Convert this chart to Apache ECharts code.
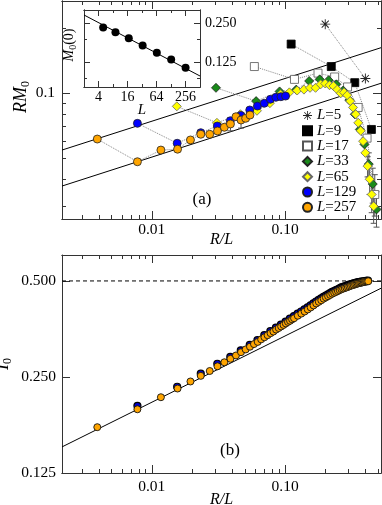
<!DOCTYPE html>
<html>
<head>
<meta charset="utf-8">
<script src="https://cdn.jsdelivr.net/npm/echarts@6/dist/echarts.min.js"></script>
<style>
html, body { margin: 0; padding: 0; background: #fff; }
#chart { width: 382px; height: 505px; }
</style>
</head>
<body>
<div id="chart"></div>
<script>
// ---- data ----
// panel (a): R/L and R*M0 for each system size L
var rl5 = [0.2, 0.4];
var rm5 = [0.209, 0.117];
var rl9 = [0.111, 0.222, 0.333, 0.444];
var rm9 = [0.169, 0.133, 0.112, 0.068];
var rl17 = [0.0588, 0.1176, 0.1765, 0.2353, 0.2941, 0.3529, 0.4118, 0.4706];
var rm17 = [0.133, 0.116, 0.124, 0.119, 0.107, 0.086, 0.062, 0.034];
var rl33 = [0.0303, 0.0606, 0.0909, 0.1212, 0.1515, 0.1818, 0.2121, 0.2424, 0.2727, 0.3030, 0.3333, 0.3636, 0.3939, 0.4242, 0.4545, 0.4848];
var rm33 = [0.106, 0.092, 0.102, 0.104, 0.114, 0.116, 0.115, 0.110, 0.103, 0.093, 0.080, 0.068, 0.058, 0.047, 0.038, 0.029];
var rl65 = [0.0154, 0.0308, 0.0462, 0.0615, 0.0769, 0.0923, 0.1077, 0.1231, 0.1385, 0.1538, 0.1692, 0.1846, 0.2000, 0.2154, 0.2308,
            0.2462, 0.2615, 0.2769, 0.2923, 0.3077, 0.3231, 0.3385, 0.3538, 0.3692, 0.3846, 0.4000, 0.4154, 0.4308, 0.4462, 0.4615];
var rm65 = [0.087, 0.073, 0.080, 0.083, 0.090, 0.099, 0.101, 0.103, 0.104, 0.106, 0.106, 0.110, 0.111, 0.109, 0.108,
            0.104, 0.100, 0.101, 0.098, 0.092, 0.086, 0.080, 0.073, 0.067, 0.060, 0.053, 0.046, 0.040, 0.034, 0.030];
var rl129 = [0.0078, 0.0155, 0.0233, 0.0310, 0.0388, 0.0465, 0.0543, 0.0620, 0.0698, 0.0775, 0.0853, 0.0930, 0.1008];
var rm129 = [0.0726, 0.0587, 0.0657, 0.0706, 0.0746, 0.0790, 0.0837, 0.0873, 0.0899, 0.0938, 0.0958, 0.0964, 0.0971];
var rl257 = [0.0039, 0.0078, 0.0117, 0.0156, 0.0195, 0.0233, 0.0272, 0.0311, 0.0350, 0.0389, 0.0428, 0.0467, 0.0506, 0.0545];
var rm257 = [0.0614, 0.0482, 0.0546, 0.0551, 0.0608, 0.0646, 0.0646, 0.0669, 0.0696, 0.0721, 0.0779, 0.0752, 0.0766, 0.0793];

// error bars in panel (a)
var errX  = [0.0389, 0.0467, 0.4154, 0.4242, 0.4308, 0.4462, 0.4545, 0.4615, 0.4706, 0.4848];
var errLo = [0.067, 0.069, 0.041, 0.041, 0.034, 0.028, 0.031, 0.025, 0.027, 0.024];
var errHi = [0.077, 0.081, 0.051, 0.053, 0.046, 0.040, 0.045, 0.035, 0.042, 0.035];

// straight fits in panel (a), end points
var fitUpX = [0.00212, 0.524], fitUpY = [0.0546, 0.1626];
var fitLoX = [0.00212, 0.524], fitLoY = [0.0372, 0.1113];

// inset: M0(0) versus L
var insetL = [5, 9, 17, 33, 65, 129, 257];
var insetM = [0.233, 0.214, 0.192, 0.169, 0.148, 0.131, 0.113];
var insetFitL = [2, 512], insetFitM = [0.2925, 0.0975];

// panel (b): I0 versus R/L
var b257x = [0.0039, 0.0078, 0.0117, 0.0156, 0.0195, 0.0233, 0.0272, 0.0311, 0.0350, 0.0389, 0.0428, 0.0467, 0.0506, 0.0545, 0.0584,
             0.0623, 0.0661, 0.0700, 0.0739, 0.0778, 0.0817, 0.0856, 0.0895, 0.0934, 0.0973, 0.1012, 0.1051, 0.1089, 0.1128, 0.1167,
             0.1245, 0.1323, 0.1401, 0.1479, 0.1556, 0.1634, 0.1712, 0.1790, 0.1868, 0.1946, 0.2023, 0.2101, 0.2179, 0.2257, 0.2335,
             0.2412, 0.2490, 0.2568, 0.2646, 0.2724, 0.2802, 0.2879, 0.2957, 0.3035, 0.3113, 0.3191, 0.3268, 0.3346, 0.3424, 0.3502,
             0.3580, 0.3658, 0.3735, 0.3813, 0.3891, 0.3969, 0.4047, 0.4125, 0.4202];
var b257i = [0.174, 0.198, 0.216, 0.230, 0.242, 0.252, 0.261, 0.270, 0.278, 0.285, 0.292, 0.299, 0.305, 0.311, 0.317,
             0.322, 0.328, 0.333, 0.338, 0.343, 0.347, 0.352, 0.356, 0.360, 0.364, 0.368, 0.372, 0.375, 0.379, 0.382,
             0.389, 0.395, 0.401, 0.407, 0.413, 0.419, 0.425, 0.430, 0.435, 0.440, 0.444, 0.448, 0.452, 0.456, 0.459,
             0.462, 0.465, 0.468, 0.471, 0.473, 0.475, 0.477, 0.479, 0.481, 0.483, 0.485, 0.486, 0.488, 0.489, 0.491,
             0.492, 0.493, 0.494, 0.495, 0.496, 0.497, 0.498, 0.498, 0.499];
var b129x = [0.0078, 0.0155, 0.0233, 0.0310, 0.0388, 0.0465, 0.0543, 0.0620, 0.0698, 0.0775, 0.0853, 0.0930, 0.1008, 0.1085, 0.1163,
             0.1240, 0.1318, 0.1395, 0.1473, 0.1550, 0.1628, 0.1705, 0.1783, 0.1860, 0.1938, 0.2016, 0.2093, 0.2171, 0.2248, 0.2326,
             0.2403, 0.2481, 0.2558, 0.2636, 0.2713, 0.2791, 0.2868, 0.2946, 0.3023, 0.3101, 0.3178, 0.3256, 0.3333, 0.3411, 0.3488,
             0.3566, 0.3643, 0.3721, 0.3798, 0.3876, 0.3953, 0.4031, 0.4109, 0.4186];
var b129i = [0.203, 0.233, 0.256, 0.275, 0.289, 0.303, 0.315, 0.326, 0.338, 0.348, 0.357, 0.365, 0.373, 0.381, 0.388,
             0.395, 0.401, 0.407, 0.413, 0.419, 0.425, 0.431, 0.436, 0.441, 0.446, 0.450, 0.454, 0.458, 0.462, 0.465,
             0.468, 0.471, 0.474, 0.477, 0.479, 0.481, 0.483, 0.485, 0.487, 0.488, 0.490, 0.491, 0.492, 0.494, 0.495,
             0.496, 0.497, 0.498, 0.498, 0.499, 0.499, 0.500, 0.500, 0.501];
var fitBX = [0.00212, 0.524], fitBY = [0.1509, 0.4743];
var halfX = [0.00212, 0.524], halfY = [0.5, 0.5];

// axis ranges and tick positions
var XR = [0.00212, 0.524];
var AR = [0.02618, 0.2675];
var BR = [0.125, 0.603];
var IXR = [2, 512];
var IYR = [0.08, 0.32];
var xMajor = [0.01, 0.1];
var xMinor = [0.003, 0.004, 0.005, 0.006, 0.007, 0.008, 0.009, 0.02, 0.03, 0.04, 0.05, 0.06, 0.07, 0.08, 0.09, 0.2, 0.3, 0.4, 0.5];
var aMajor = [0.1];
var aMinor = [0.03, 0.04, 0.05, 0.06, 0.07, 0.08, 0.09, 0.2];
var bMajor = [0.125, 0.25, 0.5];
var ixMajor = [4, 16, 64, 256];
var ixMinor = [8, 32, 128];
var iyMajor = [0.125, 0.25];
var iyMinor = [0.09375, 0.1875];

var FONT = 'Liberation Serif';
var STAR = 'path://M-0.45,-5L0.45,-5L0.45,5L-0.45,5Z M-5,-0.45L5,-0.45L5,0.45L-5,0.45Z M3.22,3.86L-3.86,-3.22L-3.22,-3.86L3.86,3.22Z M-3.86,3.22L3.22,-3.86L3.86,-3.22L-3.22,3.86Z';

var chartDom = document.getElementById('chart');
var myChart = echarts.init(chartDom);
var option;

function pts(xs, ys) {
  return xs.map(function (x, i) { return [x, ys[i]]; });
}

// value axis in log10 space, used only for the frame, ticks and labels
function frameAxis(grid, pos, range, ticks, len, extra) {
  var ax = {
    type: 'value', gridIndex: grid, position: pos,
    min: Math.log10(range[0]), max: Math.log10(range[1]),
    nameMoveOverlap: false,
    axisLine: { show: true, onZero: false, lineStyle: { color: '#333', width: 1 } },
    axisTick: { show: true, inside: true, length: len, customValues: ticks.map(Math.log10), lineStyle: { color: '#333', width: 1 } },
    axisLabel: { show: false },
    splitLine: { show: false }
  };
  return Object.assign(ax, extra || {});
}

function labels(values, fmt, size, margin) {
  return {
    show: true, customValues: values.map(Math.log10), margin: margin,
    formatter: function (v) { return fmt(Math.pow(10, v)); },
    fontFamily: FONT, fontSize: size, color: '#000'
  };
}

function nameStyle(size, sub) {
  return {
    fontFamily: FONT, fontSize: size, color: '#000',
    rich: {
      i: { fontFamily: FONT, fontStyle: 'italic', fontSize: size, color: '#000' },
      s: { fontFamily: FONT, fontSize: sub, color: '#000', padding: [sub * 0.8, 0, 0, 0] },
      n: { fontFamily: FONT, fontSize: size, color: '#000' }
    }
  };
}

var dataAxis = function (grid, range, base) {
  return { type: 'log', logBase: base, gridIndex: grid, min: range[0], max: range[1], show: false };
};

var DOT = { type: 'dotted', color: '#888', width: 1 };
var EDGE = '#222';

function markSeries(name, xs, ys, symbol, size, fill, border, bw) {
  return {
    name: name, type: 'line', xAxisIndex: 0, yAxisIndex: 0,
    data: pts(xs, ys), symbol: symbol, symbolSize: size,
    lineStyle: DOT, itemStyle: { color: fill, borderColor: border, borderWidth: bw, opacity: 1 },
    z: 3
  };
}

function fitSeries(xs, ys, grid, dash) {
  return {
    type: 'line', xAxisIndex: grid, yAxisIndex: grid, data: pts(xs, ys),
    symbol: 'none', silent: true, z: 1,
    lineStyle: { color: '#000', width: 1, type: dash ? [4, 3] : 'solid' }
  };
}

option = {
  animation: false,
  backgroundColor: '#fff',
  grid: [
    { left: 62, top: 1, width: 319, height: 218, containLabel: false, outerBoundsMode: 'none' },
    { left: 62, top: 255, width: 319, height: 218, containLabel: false, outerBoundsMode: 'none' },
    { left: 84, top: 10, width: 116, height: 77, containLabel: false, outerBoundsMode: 'none', show: true, backgroundColor: '#fff', borderWidth: 0 }
  ],
  xAxis: [
    dataAxis(0, XR, 10),
    dataAxis(1, XR, 10),
    dataAxis(2, IXR, 2),
    frameAxis(0, 'bottom', XR, xMajor, 8, {
      axisLabel: labels(xMajor, function (v) { return v.toFixed(2); }, 15.5, 3),
      name: '{i|R/L}', nameLocation: 'middle', nameGap: 13, nameTextStyle: nameStyle(16, 11)
    }),
    frameAxis(0, 'bottom', XR, xMinor, 4),
    frameAxis(0, 'top', XR, xMajor, 8),
    frameAxis(0, 'top', XR, xMinor, 4),
    frameAxis(1, 'bottom', XR, xMajor, 8, {
      axisLabel: labels(xMajor, function (v) { return v.toFixed(2); }, 15.5, 6),
      name: '{i|R/L}', nameLocation: 'middle', nameGap: 19, nameTextStyle: nameStyle(16, 11)
    }),
    frameAxis(1, 'bottom', XR, xMinor, 4),
    frameAxis(1, 'top', XR, xMajor, 8),
    frameAxis(1, 'top', XR, xMinor, 4),
    frameAxis(2, 'bottom', IXR, ixMajor, 6, {
      axisLabel: labels(ixMajor, function (v) { return String(Math.round(v)); }, 14, 3),
      name: '{i|L}', nameLocation: 'middle', nameGap: 16, nameTextStyle: nameStyle(15, 10)
    }),
    frameAxis(2, 'bottom', IXR, ixMinor, 3),
    frameAxis(2, 'top', IXR, ixMajor, 6),
    frameAxis(2, 'top', IXR, ixMinor, 3)
  ],
  yAxis: [
    dataAxis(0, AR, 10),
    dataAxis(1, BR, 2),
    dataAxis(2, IYR, 2),
    frameAxis(0, 'left', AR, aMajor, 8, {
      axisLabel: labels(aMajor, function (v) { return v.toFixed(1); }, 15.5, 7),
      name: '{i|RM}{s|0}', nameLocation: 'middle', nameGap: 30,
      nameTextStyle: Object.assign(nameStyle(18, 12), { padding: [0, 0, 0, 26] })
    }),
    frameAxis(0, 'left', AR, aMinor, 4),
    frameAxis(0, 'right', AR, aMajor, 8),
    frameAxis(0, 'right', AR, aMinor, 4),
    frameAxis(1, 'left', BR, bMajor, 8, {
      axisLabel: labels(bMajor, function (v) { return v.toFixed(3); }, 15.5, 6),
      name: '{i|I}{s|0}', nameLocation: 'middle', nameGap: 48, nameTextStyle: nameStyle(18, 12)
    }),
    frameAxis(1, 'right', BR, bMajor, 8),
    frameAxis(2, 'left', IYR, iyMajor, 6, {
      name: '{i|M}{s|0}{n|(0)}', nameLocation: 'middle', nameGap: 6,
      nameTextStyle: Object.assign(nameStyle(14, 10), { padding: [0, 0, 0, 7] })
    }),
    frameAxis(2, 'left', IYR, iyMinor, 3),
    frameAxis(2, 'right', IYR, iyMajor, 6, {
      axisLabel: labels(iyMajor, function (v) { return v.toFixed(3); }, 14, 5)
    }),
    frameAxis(2, 'right', IYR, iyMinor, 3)
  ],
  legend: {
    left: 297, top: 103, orient: 'vertical',
    itemWidth: 9, itemHeight: 9, itemGap: 0.3,
    selectedMode: false,
    data: [
      { name: 'L=5', icon: STAR },
      { name: 'L=9', icon: 'rect' },
      { name: 'L=17', icon: 'rect' },
      { name: 'L=33', icon: 'diamond' },
      { name: 'L=65', icon: 'diamond' },
      { name: 'L=129', icon: 'circle' },
      { name: 'L=257', icon: 'circle' }
    ],
    formatter: function (name) { return '{i|L}{n|' + name.slice(1) + '}'; },
    textStyle: {
      fontFamily: FONT, fontSize: 15, lineHeight: 15, color: '#000',
      rich: {
        i: { fontFamily: FONT, fontStyle: 'italic', fontSize: 15, lineHeight: 15, color: '#000' },
        n: { fontFamily: FONT, fontSize: 15, lineHeight: 15, color: '#000' }
      }
    }
  },
  graphic: [
    { type: 'text', x: 202, y: 200, style: { text: '(a)', fontFamily: FONT, fontSize: 17, fill: '#000', align: 'center', verticalAlign: 'middle' } },
    { type: 'text', x: 230, y: 451, style: { text: '(b)', fontFamily: FONT, fontSize: 17, fill: '#000', align: 'center', verticalAlign: 'middle' } }
  ],
  series: [
    fitSeries(fitUpX, fitUpY, 0),
    fitSeries(fitLoX, fitLoY, 0),
    {
      type: 'custom', xAxisIndex: 0, yAxisIndex: 0, z: 2, silent: true,
      data: errX.map(function (x, i) { return [x, errLo[i], errHi[i]]; }),
      encode: { x: 0, y: [1, 2] },
      renderItem: function (params, api) {
        var p1 = api.coord([api.value(0), api.value(1)]);
        var p2 = api.coord([api.value(0), api.value(2)]);
        var st = { stroke: '#555', lineWidth: 1 };
        return {
          type: 'group', children: [
            { type: 'line', shape: { x1: p1[0], y1: p1[1], x2: p2[0], y2: p2[1] }, style: st },
            { type: 'line', shape: { x1: p1[0] - 3, y1: p1[1], x2: p1[0] + 3, y2: p1[1] }, style: st },
            { type: 'line', shape: { x1: p2[0] - 3, y1: p2[1], x2: p2[0] + 3, y2: p2[1] }, style: st }
          ]
        };
      }
    },
    markSeries('L=5', rl5, rm5, STAR, 10, '#222', '#222', 0),
    markSeries('L=9', rl9, rm9, 'rect', 8, '#000', '#000', 0.8),
    markSeries('L=17', rl17, rm17, 'rect', 8, '#fff', '#555', 0.8),
    markSeries('L=33', rl33, rm33, 'diamond', 9, '#1a8a1a', EDGE, 0.8),
    markSeries('L=65', rl65, rm65, 'diamond', 9, '#ffff00', '#666', 0.8),
    markSeries('L=129', rl129, rm129, 'circle', 8, '#0000ff', EDGE, 0.8),
    markSeries('L=257', rl257, rm257, 'circle', 8, '#ffa500', EDGE, 0.8),
    // inset
    fitSeries(insetFitL, insetFitM, 2),
    {
      type: 'scatter', xAxisIndex: 2, yAxisIndex: 2, data: pts(insetL, insetM),
      symbol: 'circle', symbolSize: 8, itemStyle: { color: '#000', opacity: 1 }, z: 3
    },
    // panel (b)
    fitSeries(halfX, halfY, 1, true),
    fitSeries(fitBX, fitBY, 1),
    {
      type: 'scatter', xAxisIndex: 1, yAxisIndex: 1, data: pts(b129x, b129i),
      symbol: 'circle', symbolSize: 7, itemStyle: { color: '#0000cc', borderColor: '#000', borderWidth: 1.2, opacity: 1 }, z: 3
    },
    {
      type: 'scatter', xAxisIndex: 1, yAxisIndex: 1, data: pts(b257x, b257i),
      symbol: 'circle', symbolSize: 7, itemStyle: { color: '#ffa500', borderColor: '#111', borderWidth: 0.9, opacity: 1 }, z: 4
    }
  ]
};

option && myChart.setOption(option);
</script>
</body>
</html>
